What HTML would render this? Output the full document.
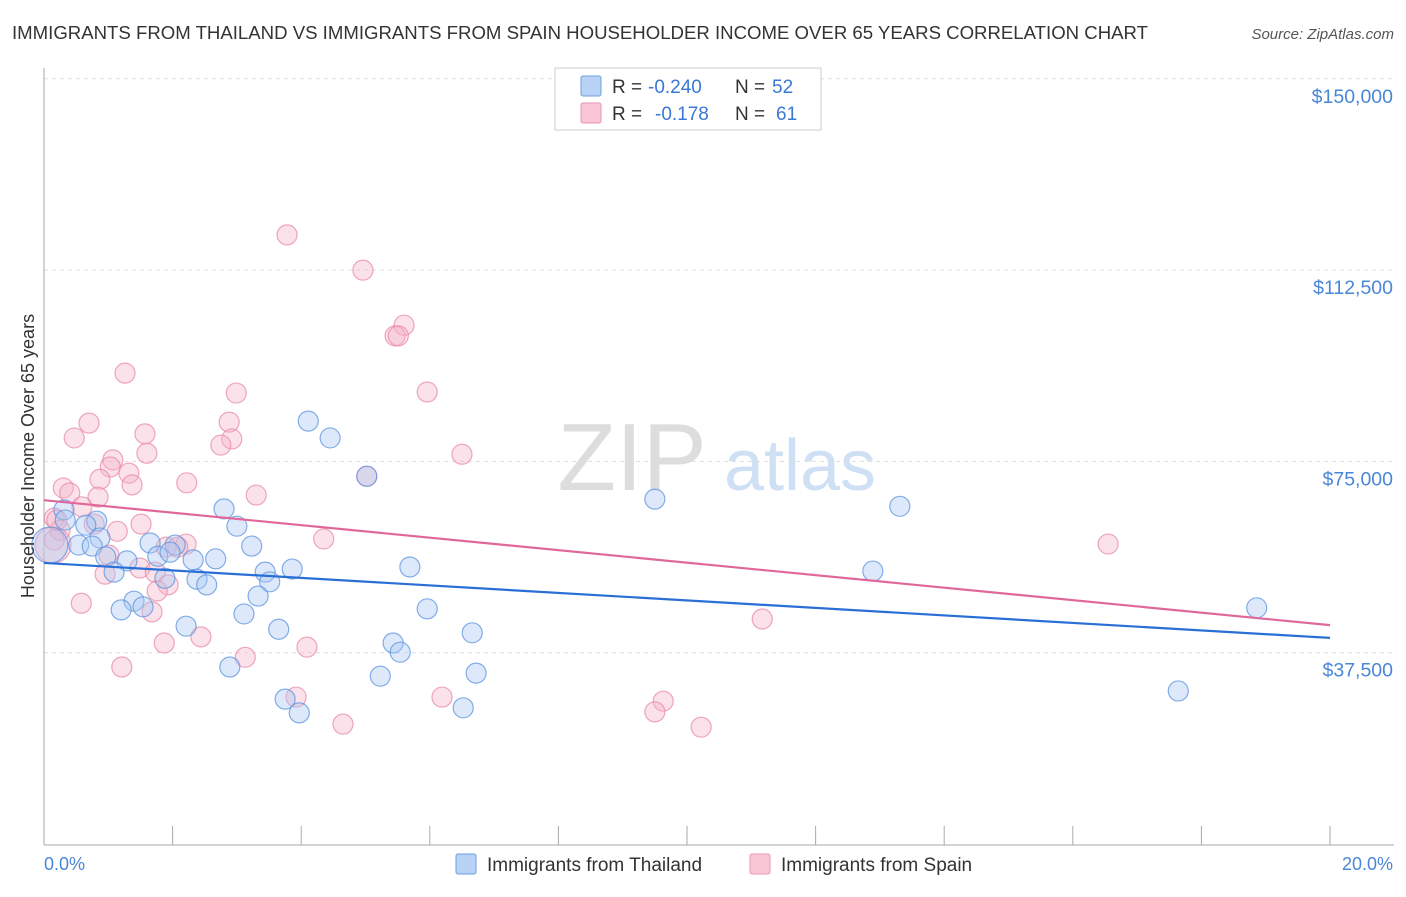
<!DOCTYPE html>
<html><head><meta charset="utf-8"><style>
body{margin:0;background:#fff;font-family:"Liberation Sans",sans-serif}
svg text{font-family:"Liberation Sans",sans-serif}
</style></head><body>
<svg id="c" width="1406" height="892">
<text x="12" y="39" font-size="18" fill="#333" textLength="1136" lengthAdjust="spacingAndGlyphs">IMMIGRANTS FROM THAILAND VS IMMIGRANTS FROM SPAIN HOUSEHOLDER INCOME OVER 65 YEARS CORRELATION CHART</text>
<text x="1394" y="39" font-size="15" fill="#555" text-anchor="end" font-style="italic">Source: ZipAtlas.com</text>
<g>
<text x="632" y="490" font-size="96" fill="#ddd" font-family="Liberation Serif" text-anchor="middle">ZIP</text>
<text x="800" y="490" font-size="72" fill="#cfe0f5" text-anchor="middle">atlas</text>
</g>
<g id="grid"></g><g id="axes"></g><g id="pts"></g><g id="lines"></g>
<text transform="translate(34,456) rotate(-90)" font-size="18" fill="#333" text-anchor="middle">Householder Income Over 65 years</text>
<text x="44" y="870" font-size="18" fill="#4a86d8">0.0%</text>
<text x="1393" y="870" font-size="18" fill="#4a86d8" text-anchor="end">20.0%</text>
<g font-size="19">
<rect x="555" y="68" width="266" height="62" fill="#fff" stroke="#ccc"/>
<rect x="581" y="76" width="20" height="20" fill="#b8d3f5" stroke="#6d9fe2" rx="2"/>
<rect x="581" y="103" width="20" height="20" fill="#f9c6d5" stroke="#e995b0" rx="2"/>
<text x="612" y="93" fill="#333">R =</text>
<text x="648" y="93" fill="#3a78d4">-0.240</text>
<text x="735" y="93" fill="#333">N =</text>
<text x="772" y="93" fill="#3a78d4">52</text>
<text x="612" y="120" fill="#333">R =</text>
<text x="655" y="120" fill="#3a78d4">-0.178</text>
<text x="735" y="120" fill="#333">N =</text>
<text x="776" y="120" fill="#3a78d4">61</text>
</g>
<g>
<rect x="456" y="854" width="20" height="20" fill="#b8d3f5" stroke="#6d9fe2" rx="2"/>
<text x="487" y="871" font-size="19" fill="#333">Immigrants from Thailand</text>
<rect x="750" y="854" width="20" height="20" fill="#f9c6d5" stroke="#e995b0" rx="2"/>
<text x="781" y="871" font-size="19" fill="#333">Immigrants from Spain</text>
</g>
</svg>
<script>
const yTicks=[37500,75000,112500,150000];
const yTickLabels=["$37,500","$75,000","$112,500","$150,000"];
const thX=[4.11,4.45,5.02,9.50,13.31,2.80,3.00,0.82,0.65,0.31,0.87,0.54,0.75,1.65,2.04,3.23,0.96,1.29,1.77,1.96,2.32,2.67,1.09,3.44,3.86,5.69,12.89,1.88,2.38,2.53,3.51,3.33,1.40,1.54,1.20,3.11,5.96,18.86,2.21,3.65,6.66,5.43,5.54,2.89,5.23,6.72,3.75,3.97,6.52,17.64,0.09,0.33];
const thY=[82.9,79.6,72.1,67.6,66.2,65.7,62.3,63.3,62.5,65.5,60.0,58.6,58.4,59.0,58.6,58.4,56.3,55.5,56.4,57.2,55.7,55.9,53.3,53.3,53.9,54.3,53.5,52.1,51.9,50.8,51.4,48.6,47.6,46.5,45.9,45.1,46.1,46.3,42.7,42.1,41.4,39.4,37.6,34.7,32.9,33.5,28.4,25.7,26.7,30.0,58.6,63.5];
const spX=[3.78,4.96,5.60,5.46,5.51,1.26,2.99,5.96,0.70,2.88,0.47,1.57,2.92,2.75,1.60,6.50,1.07,1.03,1.32,0.87,5.02,1.37,2.22,0.30,0.40,3.30,0.84,0.59,0.16,0.78,1.51,1.14,0.25,0.16,4.35,16.55,1.90,2.21,2.08,1.01,1.49,0.95,1.73,1.93,1.76,0.58,1.68,2.44,1.87,4.09,3.13,1.21,11.17,3.92,6.19,9.63,9.50,4.65,10.22,0.14,0.20];
const spY=[119.4,112.5,101.7,99.6,99.6,92.3,88.4,88.6,82.5,82.7,79.6,80.4,79.4,78.2,76.6,76.4,75.3,73.9,72.7,71.5,72.1,70.4,70.8,69.8,68.8,68.4,68.0,66.1,63.9,62.7,62.7,61.3,61.5,59.6,59.8,58.8,58.2,58.8,58.2,56.6,54.1,52.9,53.3,50.8,49.6,47.2,45.5,40.6,39.4,38.6,36.6,34.7,44.1,28.8,28.8,28.0,25.9,23.5,22.9,58.6,63.5];
const thTrend=[55.1,40.4];
const spTrend=[67.4,42.9];
const NS="http://www.w3.org/2000/svg";
const X=v=>44+v*64.3;
function Yk(k){return 844-k*191.3/37.5;}
function mk(t,a,p){const e=document.createElementNS(NS,t);for(const k in a)e.setAttribute(k,a[k]);p.appendChild(e);return e;}
const grid=document.getElementById('grid'),axes=document.getElementById('axes');
yTicks.forEach((t,i)=>{const y=Yk(t/1000);
const l=mk('line',{x1:44,x2:1394,y1:y,y2:y,stroke:'#ddd','stroke-dasharray':'4,4'},grid);


const tx=mk('text',{x:1393,y:y+24,'font-size':19.5,fill:'#4a86d8','text-anchor':'end'},grid);
tx.textContent=yTickLabels[i];

});
mk('line',{x1:44,x2:44,y1:68,y2:845,stroke:'#aaa'},axes);
mk('line',{x1:44,x2:1394,y1:845,y2:845,stroke:'#aaa'},axes);
for(let i=0;i<=10;i++){const x=X(i*2);const t=mk('line',{x1:x,x2:x,y1:826,y2:845,stroke:'#aaa'},axes);

}
const pts=document.getElementById('pts');
function series(xs,ys,fill,stroke,name){xs.forEach((v,i)=>{const big=i==xs.length-2;
const c=mk('circle',{cx:X(v),cy:Yk(ys[i]),r:big?18:10,fill:fill,'fill-opacity':0.4,stroke:stroke,'stroke-opacity':0.75,'stroke-width':1.2},pts);

});}
series(spX,spY,'#f5b3c7','#e88aa8','spain-point');
series(thX,thY,'#a9c8f2','#5b93e0','thailand-point');
const lines=document.getElementById('lines');
const l1=mk('line',{x1:X(0),x2:X(20),y1:Yk(thTrend[0]),y2:Yk(thTrend[1]),stroke:'#2a6fd6','stroke-width':2.2},lines);


const l2=mk('line',{x1:X(0),x2:X(20),y1:Yk(spTrend[0]),y2:Yk(spTrend[1]),stroke:'#e0679a','stroke-width':2.2},lines);


</script>
</body></html>
